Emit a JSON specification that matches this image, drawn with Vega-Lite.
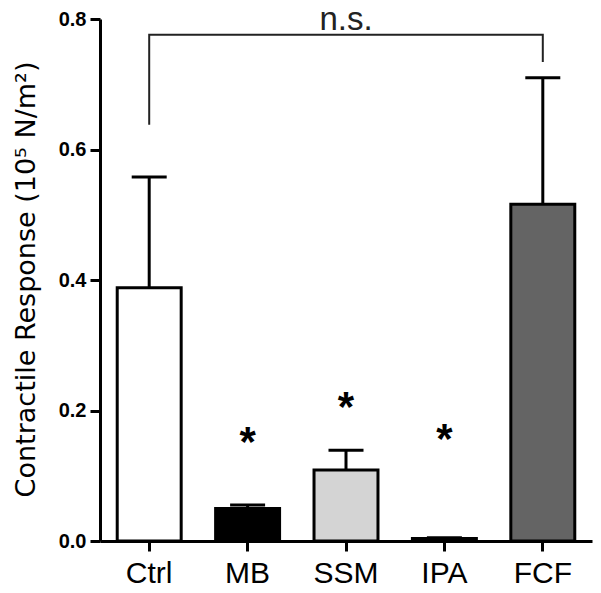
{
  "$schema": "https://vega.github.io/schema/vega-lite/v6.json",
  "autosize": "none",
  "width": 492,
  "height": 522,
  "padding": {"left": 100, "top": 19, "right": 9, "bottom": 52},
  "background": "white",
  "config": {
    "view": {"stroke": null},
    "font": "Liberation Sans"
  },
  "datasets": {
    "bars": [
      {"group": "Ctrl", "value": 0.388, "upper": 0.558, "star": null},
      {"group": "MB", "value": 0.05, "upper": 0.055, "star": 0.131},
      {"group": "SSM", "value": 0.109, "upper": 0.139, "star": 0.184},
      {"group": "IPA", "value": 0.004, "upper": 0.005, "star": 0.135},
      {"group": "FCF", "value": 0.516, "upper": 0.71, "star": null}
    ],
    "bracket": [
      {"group": "Ctrl", "y": 0.638, "order": 1},
      {"group": "Ctrl", "y": 0.776, "order": 2},
      {"group": "FCF", "y": 0.776, "order": 3},
      {"group": "FCF", "y": 0.734, "order": 4}
    ],
    "label": [
      {"group": "SSM", "y": 0.783, "text": "n.s."}
    ]
  },
  "encoding": {
    "x": {
      "field": "group",
      "type": "nominal",
      "sort": null,
      "scale": {"domain": ["Ctrl", "MB", "SSM", "IPA", "FCF"], "paddingInner": 0.35, "paddingOuter": 0.175},
      "axis": {
        "title": null,
        "labelAngle": 0,
        "labelFont": "Liberation Sans",
        "labelFontSize": 30,
        "labelColor": "black",
        "labelPadding": 7,
        "tickSize": 10,
        "tickWidth": 3,
        "tickColor": "black",
        "domainWidth": 3,
        "domainColor": "black"
      }
    }
  },
  "layer": [
    {
      "data": {"name": "bars"},
      "mark": {"type": "bar", "stroke": "black", "strokeWidth": 3},
      "encoding": {
        "y": {
          "field": "value",
          "type": "quantitative",
          "scale": {"domain": [0, 0.8], "nice": false},
          "axis": {
            "title": "Contractile Response (10⁵ N/m²)",
            "titleFont": "DejaVu Sans",
            "titleFontSize": 27,
            "titleFontWeight": "normal",
            "titleColor": "black",
            "titleX": -66,
            "titleY": 260,
            "titleBaseline": "alphabetic",
            "titleAngle": -90,
            "values": [0, 0.2, 0.4, 0.6, 0.8],
            "format": ".1f",
            "labelFont": "Liberation Sans",
            "labelFontSize": 20,
            "labelFontWeight": "bold",
            "labelColor": "black",
            "labelPadding": 4,
            "tickSize": 10,
            "tickWidth": 3,
            "tickColor": "black",
            "domainWidth": 3,
            "domainColor": "black",
            "grid": false
          }
        },
        "fill": {
          "field": "group",
          "type": "nominal",
          "scale": {"domain": ["Ctrl", "MB", "SSM", "IPA", "FCF"], "range": ["#ffffff", "#000000", "#d4d4d4", "#000000", "#646464"]},
          "legend": null
        }
      }
    },
    {
      "data": {"name": "bars"},
      "mark": {"type": "rule", "color": "black", "strokeWidth": 3},
      "encoding": {
        "y": {"field": "value", "type": "quantitative"},
        "y2": {"field": "upper"}
      }
    },
    {
      "data": {"name": "bars"},
      "mark": {"type": "tick", "color": "black", "thickness": 3, "size": 35, "opacity": 1},
      "encoding": {
        "y": {"field": "upper", "type": "quantitative"}
      }
    },
    {
      "data": {"name": "bars"},
      "transform": [{"filter": "datum.star != null"}],
      "mark": {"type": "text", "text": "*", "fontSize": 42, "fontWeight": "bold", "baseline": "alphabetic", "align": "center", "color": "black"},
      "encoding": {
        "y": {"field": "star", "type": "quantitative"}
      }
    },
    {
      "data": {"name": "bracket"},
      "mark": {"type": "line", "color": "#222222", "strokeWidth": 2},
      "encoding": {
        "y": {"field": "y", "type": "quantitative"},
        "order": {"field": "order"}
      }
    },
    {
      "data": {"name": "label"},
      "mark": {"type": "text", "fontSize": 33, "baseline": "alphabetic", "align": "center", "color": "#222222"},
      "encoding": {
        "y": {"field": "y", "type": "quantitative"},
        "text": {"field": "text"}
      }
    }
  ]
}
